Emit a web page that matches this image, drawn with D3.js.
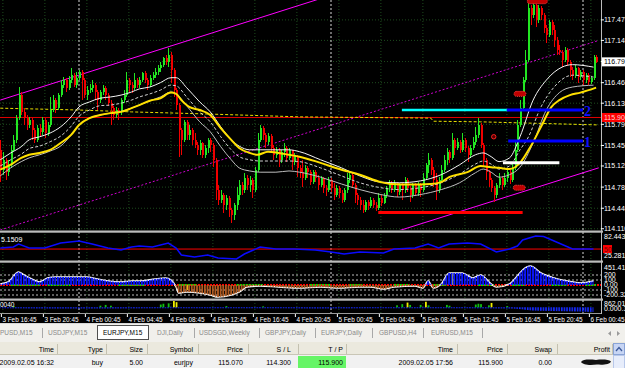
<!DOCTYPE html>
<html>
<head>
<meta charset="utf-8">
<script src="https://cdn.jsdelivr.net/npm/d3@7"></script>
<style>
  html, body { margin: 0; padding: 0; background: #000; }
  svg { display: block; font-family: "Liberation Sans", Arial, sans-serif; }
</style>
</head>
<body>
<div id="chart"></div>
<script>
// ---- EURJPY M15 candles (open of a bar = previous close) ----
const firstOpen = 115.38;
const close = [
  115.06,115.22,115.02,115.14,115.38,115.54,115.89,116.26,115.99,115.89,
  115.78,115.86,115.70,115.54,115.73,115.67,115.86,115.65,115.78,116.02,
  116.18,116.05,116.26,116.42,116.50,116.38,116.50,116.58,116.42,116.54,
  116.63,116.50,116.26,116.34,116.38,116.42,116.31,116.18,116.31,116.38,
  116.26,116.13,116.05,115.94,116.02,115.99,116.18,116.26,116.50,116.42,
  116.38,116.50,116.42,116.50,116.62,116.50,116.42,116.54,116.58,116.63,
  116.70,116.74,116.86,116.79,116.91,116.66,116.34,116.10,115.70,115.54,
  115.83,115.62,115.70,115.54,115.46,115.38,115.49,115.30,115.41,115.54,
  115.46,115.22,114.74,114.57,114.66,114.49,114.61,114.41,114.33,114.49,
  114.66,114.82,114.74,114.93,114.82,114.90,114.74,115.06,115.54,115.73,
  115.62,115.51,115.60,115.41,115.30,115.38,115.22,115.35,115.41,115.25,
  115.38,115.19,115.28,115.09,115.02,114.93,115.09,115.02,114.86,115.02,
  114.93,114.82,114.93,114.77,114.74,114.90,114.77,114.66,114.77,114.69,
  114.57,114.74,114.90,114.98,114.82,114.66,114.57,114.49,114.41,114.54,
  114.48,114.57,114.49,114.45,114.61,114.53,114.66,114.77,114.85,114.74,
  114.85,114.70,114.82,114.74,114.90,114.77,114.66,114.82,114.69,114.82,
  114.74,114.93,115.14,115.22,115.06,114.90,114.74,114.90,115.06,115.22,
  115.35,115.25,115.54,115.41,115.51,115.38,115.54,115.41,115.30,115.41,
  115.51,115.62,115.78,115.46,115.22,115.02,114.90,114.77,114.66,114.82,
  114.93,114.82,114.93,115.02,114.90,115.09,115.38,115.78,116.05,116.50,
  116.83,117.66,117.55,117.71,117.47,117.66,117.55,117.34,117.23,117.44,
  117.31,117.15,116.99,116.95,116.83,116.99,116.79,116.66,116.58,116.70,
  116.55,116.63,116.50,116.58,116.47,116.54,116.87,116.795
];
const high = [
  115.54,115.35,115.25,115.22,115.46,115.62,115.94,116.39,116.31,116.05,
  115.94,115.91,115.89,115.73,115.78,115.80,115.91,115.89,115.83,116.23,
  116.26,116.21,116.30,116.50,116.55,116.54,116.57,116.70,116.62,116.63,
  116.66,116.66,116.54,116.41,116.44,116.50,116.46,116.34,116.34,116.42,
  116.41,116.30,116.18,116.09,116.07,116.05,116.21,116.34,116.63,116.54,
  116.47,116.62,116.54,116.55,116.63,116.65,116.54,116.58,116.63,116.70,
  116.74,116.79,116.87,116.91,117.02,116.95,116.70,116.38,116.13,115.73,
  115.86,115.86,115.78,115.73,115.65,115.51,115.54,115.51,115.46,115.57,
  115.57,115.49,115.25,114.82,114.74,114.69,114.66,114.64,114.45,114.53,
  114.78,114.90,114.86,115.01,114.98,114.96,114.93,115.10,115.65,115.78,
  115.76,115.65,115.65,115.64,115.46,115.43,115.41,115.38,115.49,115.44,
  115.41,115.38,115.33,115.30,115.14,115.22,115.14,115.12,115.06,115.06,
  115.06,114.98,114.96,114.94,114.82,114.94,114.93,114.85,114.82,114.80,
  114.74,114.77,115.01,115.02,115.01,114.85,114.69,114.62,114.57,114.57,
  114.57,114.62,114.61,114.54,114.69,114.66,114.69,114.80,114.90,114.88,
  114.90,114.86,114.85,114.85,114.94,114.93,114.80,114.85,114.85,114.86,
  114.85,115.01,115.17,115.33,115.25,115.10,115.01,114.94,115.14,115.30,
  115.41,115.38,115.65,115.57,115.57,115.54,115.65,115.57,115.44,115.46,
  115.59,115.75,115.89,115.81,115.49,115.25,115.06,114.93,114.80,114.85,
  115.01,114.96,115.01,115.06,115.06,115.17,115.54,115.86,116.18,116.55,
  116.99,117.76,117.71,117.77,117.73,117.71,117.69,117.58,117.39,117.47,
  117.47,117.39,117.20,117.07,116.99,117.03,117.02,116.83,116.71,116.74,
  116.71,116.66,116.66,116.62,116.62,116.57,116.91,116.91
];
const low = [
  114.86,114.98,114.90,114.96,115.09,115.35,115.49,115.86,115.94,115.78,
  115.70,115.73,115.54,115.49,115.51,115.60,115.62,115.57,115.60,115.75,
  115.99,115.97,116.02,116.23,116.37,116.31,116.34,116.46,116.39,116.38,
  116.50,116.18,116.21,116.18,116.30,116.31,116.18,116.02,116.13,116.26,
  116.18,116.09,115.78,115.86,115.89,115.86,115.94,116.13,116.23,116.31,
  116.30,116.34,116.38,116.38,116.47,116.46,116.34,116.39,116.50,116.54,
  116.58,116.63,116.71,116.74,116.71,116.46,116.23,116.02,115.27,115.30,
  115.51,115.54,115.54,115.46,115.41,115.30,115.30,115.25,115.25,115.33,
  115.35,115.10,114.57,114.49,114.53,114.37,114.41,114.30,114.20,114.25,
  114.41,114.57,114.66,114.69,114.74,114.70,114.61,114.70,115.02,115.51,
  115.54,115.41,115.46,115.35,115.22,115.25,115.10,115.17,115.27,115.19,
  115.22,115.06,115.14,114.94,114.93,114.78,114.90,114.93,114.82,114.83,
  114.86,114.74,114.78,114.69,114.64,114.70,114.70,114.57,114.62,114.61,
  114.53,114.54,114.69,114.85,114.77,114.53,114.49,114.41,114.37,114.38,
  114.41,114.45,114.45,114.40,114.41,114.48,114.51,114.61,114.70,114.69,
  114.70,114.62,114.66,114.57,114.69,114.70,114.54,114.61,114.64,114.64,
  114.62,114.70,114.90,115.01,114.98,114.78,114.57,114.69,114.86,115.02,
  115.14,115.17,115.22,115.30,115.38,115.33,115.35,115.35,115.19,115.25,
  115.38,115.46,115.57,115.41,115.10,114.90,114.78,114.70,114.54,114.61,
  114.77,114.74,114.78,114.86,114.83,114.86,115.06,115.35,115.75,116.02,
  116.47,116.79,117.39,117.50,117.36,117.42,117.47,117.26,117.10,117.20,
  117.23,117.03,116.91,116.91,116.71,116.79,116.73,116.55,116.50,116.54,
  116.46,116.50,116.42,116.46,116.42,116.44,116.50,116.78
];

// ---- overlays on the price panel: [bar, price] ----
const upperBand = [[0,115.22],[4,115.33],[8,115.43],[11,115.54],[15,115.59],[19,115.65],[23,115.75],[27,115.91],[30,116.07],[34,116.15],[38,116.21],[42,116.23],[46,116.26],[50,116.31],[53,116.36],[57,116.39],[61,116.46],[65,116.54],[67,116.54],[71,116.38],[76,116.15],[80,115.99],[84,115.75],[88,115.54],[91,115.44],[95,115.38],[99,115.38],[105,115.38],[110,115.38],[114,115.35],[122,115.22],[130,115.09],[137,114.96],[145,114.86],[152,114.85],[160,114.88],[168,114.98],[175,115.14],[181,115.30],[184,115.33],[187,115.27],[190,115.19],[194,115.25],[198,115.59],[203,116.18],[208,116.50],[214,116.71],[218,116.75],[226,116.71]];
const midBand = [[0,115.12],[4,115.22],[8,115.31],[11,115.40],[15,115.44],[19,115.51],[23,115.60],[27,115.76],[30,115.92],[34,116.02],[38,116.09],[42,116.10],[46,116.13],[50,116.18],[53,116.23],[57,116.28],[61,116.34],[65,116.42],[67,116.41],[71,116.23],[76,115.99],[80,115.83],[84,115.59],[88,115.38],[91,115.27],[95,115.22],[99,115.20],[105,115.20],[110,115.20],[114,115.19],[122,115.09],[130,114.96],[137,114.85],[145,114.77],[152,114.74],[160,114.77],[168,114.85],[175,114.99],[181,115.15],[184,115.20],[187,115.15],[190,115.07],[194,115.12],[198,115.38],[201,115.57],[206,116.07],[211,116.39],[218,116.58],[226,116.55]];
const lowerBand = [[0,114.96],[4,115.09],[8,115.19],[11,115.25],[15,115.30],[19,115.36],[23,115.44],[27,115.62],[30,115.78],[34,115.89],[38,115.94],[42,115.97],[46,116.00],[50,116.05],[53,116.10],[57,116.17],[61,116.23],[65,116.31],[67,116.28],[71,116.09],[76,115.83],[80,115.67],[84,115.43],[88,115.22],[91,115.09],[95,115.04],[99,115.02],[105,115.02],[110,115.04],[114,115.02],[122,114.94],[130,114.83],[137,114.74],[145,114.66],[152,114.62],[160,114.66],[168,114.74],[175,114.85],[181,115.01],[184,115.07],[187,115.02],[190,114.94],[194,114.98],[198,115.10],[203,115.49],[208,116.02],[213,116.30],[218,116.39],[226,116.42]];
const slowMA = [[0,115.06],[4,115.14],[8,115.25],[11,115.30],[15,115.33],[19,115.38],[23,115.49],[27,115.62],[30,115.78],[34,115.89],[38,115.94],[42,115.97],[46,115.99],[50,116.05],[53,116.10],[57,116.17],[61,116.21],[65,116.30],[67,116.28],[69,116.18],[72,116.07],[76,116.02],[80,115.94],[84,115.73],[88,115.54],[91,115.41],[95,115.33],[98,115.30],[102,115.35],[106,115.33],[110,115.30],[114,115.27],[122,115.17],[130,115.06],[137,114.98],[145,114.86],[149,114.83],[156,114.82],[164,114.83],[168,114.86],[171,114.94],[178,115.02],[183,115.12],[187,115.10],[190,115.09],[194,115.07],[198,115.17],[202,115.43],[206,115.75],[210,116.07],[213,116.18],[217,116.26],[221,116.30],[227,116.38]];
const avgPriceLine = [[0,116.05],[30,116.02],[50,115.99],[76,115.96],[114,115.91],[164,115.89],[165,115.84],[183,115.83],[228,115.78]];
const channelTop = [[0,116.18],[130,117.92]];
const channelMid = [[0,114.09],[228,117.14]];
const channelLow = [[152,114.08],[228,115.09]];
const takeProfit = 115.900;
const lastPrice = 116.795;
// horizontal objects: [fromBar, toBar, price]
const cyanLevel = [153, 193, 116.02];
const blueLevels = [[193, 222, 116.02, "2"], [193.5, 222, 115.52, "1"]];
const whiteLevel = [191.5, 213, 115.17];
const redLevel = [144, 199, 114.37];
const arrowMarks = [[198, 116.28], [197.7, 114.77], [204.6, 117.77]];
const dotMark = [188, 115.59];

// ---- indicator windows ----
const rsi = [[0,52.6],[5,55.1],[7,62.6],[11,52.6],[17,52.6],[23,65.0],[30,70.0],[35,62.6],[41,52.6],[46,47.6],[50,55.1],[53,57.6],[58,55.1],[64,65.0],[67,52.6],[69,35.2],[74,30.2],[79,35.2],[83,27.8],[90,25.3],[93,37.7],[99,55.1],[105,50.1],[112,50.1],[120,47.6],[126,42.7],[131,37.7],[137,42.7],[146,40.2],[150,50.1],[158,52.6],[163,62.6],[167,52.6],[171,62.6],[178,65.0],[183,62.6],[189,42.7],[194,50.1],[197,57.6],[199,72.5],[204,82.4],[207,81.0],[211,70.0],[218,50.1],[226,50.1]];
const rsiLevel = 50;
const cci = [[0,20],[3,60],[7,260],[9,200],[12,120],[15,60],[18,140],[21,160],[29,160],[33,160],[37,120],[41,80],[46,60],[50,80],[54,80],[59,120],[63,140],[65,100],[67,-40],[68,-160],[71,-140],[76,-160],[80,-200],[83,-240],[88,-200],[91,-140],[94,-40],[99,-20],[106,-40],[114,-60],[122,-40],[129,-60],[137,-40],[141,-40],[146,-80],[150,-40],[158,-20],[161,-60],[163,80],[165,-60],[168,20],[171,240],[176,240],[180,140],[183,200],[187,20],[189,-40],[194,20],[197,180],[199,300],[202,380],[206,240],[211,140],[216,80],[221,40],[226,80]];
const cciYellow = [[71,-100],[172,220]];
const cciLevels = [200, 100, -100, -200];
const cciGreenRuns = [[4,15],[18,27],[45,55],[68,75],[90,100],[118,126],[133,138],[150,156],[165,170],[182,188],[195,200],[210,216],[223,227]];
const volBlue = [[0,-120],[40,-150],[80,-120],[120,-150],[160,-120],[195,-150],[200,-300],[205,-450],[215,-500],[226,-600]];
const volGreen = [[5,150],[38,200],[40,300],[42,200],[61,350],[62,450],[64,500],[86,150],[100,120],[151,250],[153,400],[156,300],[160,300],[163,250],[170,300],[171,200],[181,350],[182,450],[183,400],[186,250],[193,150]];
const volYellow = [[66,800],[67,650],[155,600],[162,700],[187,550]];

// ---- axes ----
const priceTicks = [117.470,117.140,116.800,116.460,116.130,115.790,115.450,115.120,114.780,114.440,114.110];
const daySeparators = [30, 126, 222];
const timeTickBars = [1,17,33,49,65,81,97,113,129,145,161,177,193,209,225];
const timeLabels = ["3 Feb 16:45","3 Feb 20:45","4 Feb 00:45","4 Feb 04:45","4 Feb 08:45","4 Feb 12:45","4 Feb 16:45","4 Feb 20:45","5 Feb 00:45","5 Feb 04:45","5 Feb 08:45","5 Feb 12:45","5 Feb 16:45","5 Feb 20:45","6 Feb 00:45"];

// ---- terminal ----
const tabs = ["PUSD,M15","USDJPY,M15","EURJPY,M15","DJI,Daily","USDSGD,Weekly","GBPJPY,Daily","EURJPY,Daily","GBPUSD,H4","EURUSD,M15"];
const activeTab = "EURJPY,M15";
const columns = ["Time","Type","Size","Symbol","Price","S / L","T / P","Time","Price","Swap","Profit"];
const tradeRow = ["2009.02.05 16:32","buy","5.00","eurjpy","115.070","114.300","115.900","2009.02.05 17:56","115.900","0.00",""];

const W = 625, H = 368, plotR = 601;

const svg = d3.select("#chart").append("svg")
  .attr("width", W)
  .attr("height", H)
  .attr("viewBox", [0, 0, W, H]);

svg.append("rect").attr("width", W).attr("height", 324).attr("fill", "#000");

const defs = svg.append("defs");
const clip = (id, y, h) => defs.append("clipPath").attr("id", id)
  .append("rect").attr("x", 0).attr("y", y).attr("width", plotR).attr("height", h);
clip("cMain", 0, 230);
clip("cRsi", 233, 28);
clip("cCci", 263, 36);
clip("cCciPos", 263, 22);
clip("cCciNeg", 285, 14);
clip("cVol", 300.5, 13);

const x = d3.scaleLinear().domain([0, 228]).range([0.25, 598.75]);
const y = d3.scaleLinear().domain([114.09, 117.79]).range([230, 0]);
const yR = d3.scaleLinear().domain([25.28, 82.443]).range([259, 236]);
const yC = d3.scaleLinear().domain([-200, 200]).range([295, 275]);
const yV = d3.scaleLinear().domain([-600, 862]).range([312, 300.5]);

const stripes = (id, color, w) => {
  const p = defs.append("pattern").attr("id", id)
    .attr("patternUnits", "userSpaceOnUse")
    .attr("x", x(0) - 1).attr("width", x(1) - x(0)).attr("height", 8);
  p.append("rect").attr("width", w).attr("height", 8).attr("fill", color);
};
stripes("pBlue", "#0a14ff", 1.8);
stripes("pBrown", "#b05a20", 1.8);
stripes("pVol", "#1428ff", 1.6);

// ---- grid and separators ----
const grid = svg.append("g").attr("stroke", "#1d4a1d").attr("stroke-dasharray", "1,2");
grid.selectAll(".gv").data(timeTickBars).enter().append("line")
  .attr("x1", d => x(d)).attr("x2", d => x(d)).attr("y1", 0).attr("y2", 313);
grid.selectAll(".gh").data(priceTicks).enter().append("line")
  .attr("x1", 0).attr("x2", plotR).attr("y1", d => y(d)).attr("y2", d => y(d));

svg.append("g").attr("stroke", "#d8d8d8").attr("stroke-dasharray", "2,2")
  .selectAll("line").data(daySeparators).enter().append("line")
  .attr("x1", d => x(d)).attr("x2", d => x(d)).attr("y1", 0).attr("y2", 313);

// ---- main price window ----
const main = svg.append("g").attr("clip-path", "url(#cMain)");
const pline = d3.line().x(d => x(d[0])).y(d => y(d[1]));
const sline = d3.line().x(d => x(d[0])).y(d => y(d[1])).curve(d3.curveMonotoneX);

main.append("path").attr("d", pline(channelMid)).attr("fill", "none")
  .attr("stroke", "#d000d0").attr("stroke-dasharray", "2,2");
main.append("path").attr("d", pline(channelTop)).attr("fill", "none").attr("stroke", "#ff00ff");
main.append("path").attr("d", pline(channelLow)).attr("fill", "none").attr("stroke", "#ff00ff");

main.append("line").attr("x1", 0).attr("x2", plotR)
  .attr("y1", y(takeProfit)).attr("y2", y(takeProfit))
  .attr("stroke", "#e00000");
main.append("path").attr("d", pline(avgPriceLine)).attr("fill", "none")
  .attr("stroke", "#e8e000").attr("stroke-dasharray", "3,2");

const bars = close.map((c, i) => ({ i, o: i ? close[i - 1] : firstOpen, h: high[i], l: low[i], c }));
const candle = main.append("g").attr("shape-rendering", "crispEdges")
  .selectAll("g").data(bars).enter().append("g")
  .attr("fill", d => d.c >= d.o ? "#22e622" : "#f00000")
  .attr("stroke", d => d.c >= d.o ? "#22e622" : "#f00000");
candle.append("line")
  .attr("x1", d => Math.round(x(d.i)) + 0.5).attr("x2", d => Math.round(x(d.i)) + 0.5)
  .attr("y1", d => y(d.h)).attr("y2", d => y(d.l));
candle.append("rect")
  .attr("stroke", "none")
  .attr("x", d => Math.round(x(d.i)) - 0.5)
  .attr("width", 2)
  .attr("y", d => y(Math.max(d.o, d.c)))
  .attr("height", d => Math.max(1, Math.abs(y(d.o) - y(d.c))));

main.append("path").attr("d", sline(lowerBand)).attr("fill", "none").attr("stroke", "#bdbdbd");
main.append("path").attr("d", sline(midBand)).attr("fill", "none")
  .attr("stroke", "#d0d0d0").attr("stroke-dasharray", "3,2");
main.append("path").attr("d", sline(upperBand)).attr("fill", "none").attr("stroke", "#f4f4f4");
main.append("path").attr("d", sline(slowMA)).attr("fill", "none")
  .attr("stroke", "#ffe000").attr("stroke-width", 2);

const hseg = (seg, color, w) => main.append("line")
  .attr("x1", x(seg[0])).attr("x2", x(seg[1]))
  .attr("y1", y(seg[2])).attr("y2", y(seg[2]))
  .attr("stroke", color).attr("stroke-width", w);
hseg(redLevel, "#ff0000", 3);
hseg(cyanLevel, "#00ffff", 2.5);
hseg(whiteLevel, "#ffffff", 3);
blueLevels.forEach(b => {
  hseg(b, "#0000ff", 3);
  main.append("text").text(b[3])
    .attr("x", x(b[1]) + 1).attr("y", y(b[2]) + 6)
    .attr("fill", "#1010ff").attr("font-family", "'Liberation Serif', serif")
    .attr("font-weight", "bold").attr("font-size", 14);
});

main.selectAll(".mk").data(arrowMarks).enter().append("rect")
  .attr("x", (d, k) => x(d[0]) - (k === 2 ? 10 : 6)).attr("y", d => y(d[1]) - 2.5)
  .attr("width", (d, k) => k === 2 ? 20 : 12).attr("height", 5).attr("rx", 2.5)
  .attr("fill", "#c00000").attr("stroke", "#ff4040").attr("stroke-dasharray", "1,1");
main.append("circle").attr("cx", x(dotMark[0])).attr("cy", y(dotMark[1])).attr("r", 2.2)
  .attr("fill", "#500000").attr("stroke", "#ff2020");

// ---- RSI window ----
const rsiG = svg.append("g").attr("clip-path", "url(#cRsi)");
rsiG.append("line").attr("x1", 0).attr("x2", plotR)
  .attr("y1", yR(rsiLevel)).attr("y2", yR(rsiLevel)).attr("stroke", "#ff0000");
rsiG.append("path")
  .attr("d", d3.line().x(d => x(d[0])).y(d => yR(d[1]))(rsi))
  .attr("fill", "none").attr("stroke", "#0a0aff").attr("stroke-width", 1.5);
svg.append("text").text("5.1509").attr("x", 1).attr("y", 242)
  .attr("fill", "#fff").attr("font-size", 7);

// ---- CCI window ----
const cciG = svg.append("g").attr("clip-path", "url(#cCci)");
cciG.selectAll(".lv").data(cciLevels).enter().append("line")
  .attr("x1", 0).attr("x2", plotR).attr("y1", d => yC(d)).attr("y2", d => yC(d))
  .attr("stroke", "#bdbdbd").attr("stroke-dasharray", "2,2");
const cArea = d3.area().x(d => x(d[0])).y0(yC(0)).y1(d => yC(d[1])).curve(d3.curveMonotoneX);
svg.append("g").attr("clip-path", "url(#cCciPos)")
  .append("path").attr("d", cArea(cci)).attr("fill", "url(#pBlue)");
svg.append("g").attr("clip-path", "url(#cCciNeg)")
  .append("path").attr("d", cArea(cci)).attr("fill", "url(#pBrown)");
cciG.append("line").attr("x1", 0).attr("x2", plotR).attr("y1", yC(0)).attr("y2", yC(0))
  .attr("stroke", "#ff0000").attr("stroke-width", 2).attr("stroke-dasharray", "2,1");
cciG.selectAll(".gr").data(cciGreenRuns).enter().append("line")
  .attr("x1", d => x(d[0])).attr("x2", d => x(d[1]))
  .attr("y1", yC(0)).attr("y2", yC(0))
  .attr("stroke", "#00e000").attr("stroke-width", 2).attr("stroke-dasharray", "2,1");
cciG.selectAll(".yb").data(cciYellow).enter().append("rect")
  .attr("x", d => x(d[0]) - 0.5).attr("width", 2)
  .attr("y", d => Math.min(yC(0), yC(d[1]))).attr("height", d => Math.abs(yC(d[1]) - yC(0)))
  .attr("fill", "#ffff00");
cciG.append("path")
  .attr("d", d3.line().x(d => x(d[0])).y(d => yC(d[1])).curve(d3.curveMonotoneX)(cci))
  .attr("fill", "none").attr("stroke", "#ffffff").attr("stroke-width", 1.6);

// ---- bottom oscillator window ----
const volG = svg.append("g").attr("clip-path", "url(#cVol)");
volG.append("path")
  .attr("d", d3.area().x(d => x(d[0])).y0(yV(0)).y1(d => yV(d[1])).curve(d3.curveMonotoneX)(volBlue))
  .attr("fill", "url(#pVol)");
volG.selectAll(".vg").data(volGreen).enter().append("rect")
  .attr("x", d => x(d[0]) - 0.5).attr("width", 1.8)
  .attr("y", d => yV(d[1])).attr("height", d => yV(0) - yV(d[1])).attr("fill", "#10c010");
volG.selectAll(".vy").data(volYellow).enter().append("rect")
  .attr("x", d => x(d[0]) - 0.5).attr("width", 1.8)
  .attr("y", d => yV(d[1])).attr("height", d => yV(0) - yV(d[1])).attr("fill", "#f0f000");
svg.append("text").text("0040").attr("x", 0).attr("y", 307)
  .attr("fill", "#fff").attr("font-size", 6.5);

// panel separators and frame
[230.5, 260.5, 298.5].forEach(s => {
  svg.append("rect").attr("x", 0).attr("y", s).attr("width", 603).attr("height", 2.2).attr("fill", "#bcbcbc");
});
svg.append("line").attr("x1", 0).attr("x2", plotR + 1).attr("y1", 313.5).attr("y2", 313.5).attr("stroke", "#9a9a9a");
svg.append("line").attr("x1", plotR + 0.5).attr("x2", plotR + 0.5).attr("y1", 0).attr("y2", 314).attr("stroke", "#bcbcbc");

// ---- right price scale ----
const axisText = (yy, txt, fill) => svg.append("text").text(txt)
  .attr("x", 604).attr("y", yy).attr("dy", "0.35em")
  .attr("fill", fill || "#fff").attr("font-size", 7);
priceTicks.forEach(p => {
  svg.append("line").attr("x1", plotR).attr("x2", plotR + 3).attr("y1", y(p)).attr("y2", y(p)).attr("stroke", "#fff");
  axisText(y(p), d3.format(".3f")(p));
});
svg.append("rect").attr("x", 602).attr("y", y(takeProfit) - 4.5).attr("width", 23).attr("height", 9).attr("fill", "#ff0000");
axisText(y(takeProfit), d3.format(".3f")(takeProfit), "#ffd0d0");
svg.append("rect").attr("x", 602).attr("y", y(lastPrice) - 4.5).attr("width", 23).attr("height", 9).attr("fill", "#fff");
axisText(y(lastPrice), d3.format(".3f")(lastPrice), "#000");

axisText(237, "82.443");
axisText(256, "25.2817");
svg.append("rect").attr("x", 603).attr("y", yR(rsiLevel) - 4).attr("width", 9).attr("height", 8).attr("fill", "#ff0000");
svg.append("text").text("50").attr("x", 604).attr("y", yR(rsiLevel)).attr("dy", "0.35em")
  .attr("fill", "#700000").attr("font-size", 7);
axisText(268, "451.41");
[[200, "200"], [100, "100"], [0, "0.00"], [-100, "-100"], [-200, "-200.324"]].forEach(t => axisText(yC(t[0]), t[1]));
axisText(304, "862.011");
axisText(309, "0.000.393");

// ---- time scale ----
const tg = svg.append("g").selectAll("g").data(timeTickBars).enter().append("g");
tg.append("line").attr("x1", d => x(d) - 1.5).attr("x2", d => x(d) - 1.5)
  .attr("y1", 314).attr("y2", 317).attr("stroke", "#fff");
tg.append("text").text((d, k) => timeLabels[k])
  .attr("x", d => x(d) - 0.5).attr("y", 321.5)
  .attr("fill", "#fff").attr("font-size", 6.4);

// ---- terminal tabs ----
svg.append("rect").attr("y", 323).attr("width", W).attr("height", 20).attr("fill", "#f1f0ec");
svg.append("line").attr("x1", 0).attr("x2", W).attr("y1", 323.5).attr("y2", 323.5).attr("stroke", "#d8d8d8");
const tabX = [0, 48, 103, 157, 199, 265, 321, 379, 431];
const tabSep = [42, 194, 259, 315, 372, 423, 482];
svg.append("rect").attr("x", 97.5).attr("y", 325.5).attr("width", 51).attr("height", 14)
  .attr("fill", "#fff").attr("stroke", "#505050");
tabs.forEach((t, k) => {
  svg.append("text").text(t).attr("x", tabX[k]).attr("y", 335)
    .attr("fill", t === activeTab && k === 2 ? "#000" : "#8a8a8a").attr("font-size", 6.5);
});
tabSep.forEach(s => svg.append("line").attr("x1", s + 0.5).attr("x2", s + 0.5)
  .attr("y1", 328).attr("y2", 338).attr("stroke", "#a8a8a8"));
svg.append("path").attr("d", "M611,331 L608,333.5 L611,336 Z").attr("fill", "#9a9a9a");
svg.append("path").attr("d", "M617,331 L620,333.5 L617,336 Z").attr("fill", "#9a9a9a");

// ---- trade table ----
svg.append("rect").attr("y", 342).attr("width", W).attr("height", 13).attr("fill", "#ebe9de");
svg.append("line").attr("x1", 0).attr("x2", W).attr("y1", 354.5).attr("y2", 354.5).attr("stroke", "#c9c6b6");
svg.append("rect").attr("y", 355).attr("width", W).attr("height", 13).attr("fill", "#f1f1f1");
const colRight = [54, 103, 143, 193, 243, 291, 343, 453, 503, 552, 610];
const colSep = [57, 106, 147, 198, 248, 298, 346, 457, 507, 557, 612];
svg.append("rect").attr("x", 298).attr("y", 356).attr("width", 48).attr("height", 12).attr("fill", "#66f566");
colSep.forEach(s => svg.append("line").attr("x1", s + 0.5).attr("x2", s + 0.5)
  .attr("y1", 344).attr("y2", 354).attr("stroke", "#c4c1b0"));
columns.forEach((c, k) => svg.append("text").text(c).attr("x", colRight[k]).attr("y", 351.5)
  .attr("text-anchor", "end").attr("fill", "#000").attr("font-size", 7));
tradeRow.forEach((c, k) => svg.append("text").text(c).attr("x", colRight[k]).attr("y", 364.5)
  .attr("text-anchor", "end").attr("fill", "#000").attr("font-size", 7));
// blacked-out profit
svg.append("path")
  .attr("d", "M581,362 C583,359 590,359.5 596,360 C602,359 609,359.5 611,361.5 C610,364.5 603,365 597,364.5 C590,365.5 583,365 581,362 Z")
  .attr("fill", "#111");
svg.append("rect").attr("x", 613.5).attr("y", 343.5).attr("width", 11).attr("height", 11)
  .attr("fill", "#c7d5f4").attr("stroke", "#8aa4d6");
svg.append("path").attr("d", "M616,351 L619,347.5 L622,351").attr("fill", "none").attr("stroke", "#3c5a9a").attr("stroke-width", 1.3);
svg.append("rect").attr("x", 613.5).attr("y", 355.5).attr("width", 11).attr("height", 13)
  .attr("fill", "#e7edfb").attr("stroke", "#b8c8ea");
</script>
</body>
</html>
